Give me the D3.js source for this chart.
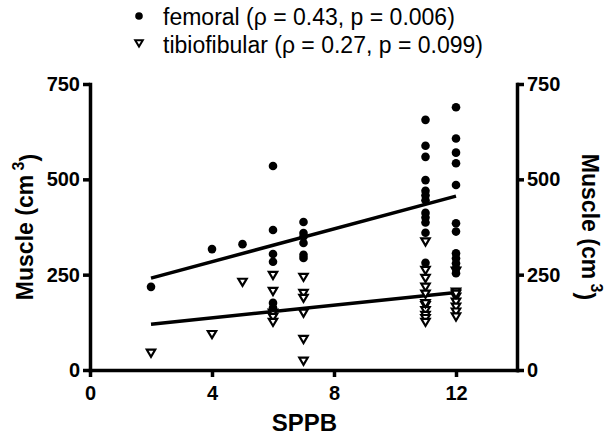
<!DOCTYPE html>
<html>
<head>
<meta charset="utf-8">
<script src="https://cdn.jsdelivr.net/npm/d3@7"></script>
<style>
  body { margin: 0; background: #fff; }
  svg text { font-family: "Liberation Sans", Arial, sans-serif; fill: #000; }
  .axis path, .axis line { stroke: #000; stroke-width: 3.5; }
  .axis text { font-size: 20px; font-weight: bold; }
</style>
</head>
<body>
<svg id="chart"></svg>
<script>
const w = 614, h = 439;

// femoral muscle volume by SPPB score
const femX = [2, 4, 5, 6, 6, 6, 6, 6, 6, 7, 7, 7, 7, 7, 7,
  11, 11, 11, 11, 11, 11, 11, 11, 11, 11, 11, 11,
  12, 12, 12, 12, 12, 12, 12, 12, 12, 12, 12, 12];
const femY = [218, 317, 330, 535, 367, 304, 284, 176, 163, 388, 359, 350, 333, 302, 294,
  656, 588, 559, 498, 470, 458, 445, 412, 400, 387, 360, 281,
  689, 607, 570, 542, 485, 385, 363, 306, 293, 280, 267, 254];

// tibiofibular muscle volume by SPPB score
const tibX = [2, 4, 5, 6, 6, 6, 6, 6, 7, 7, 7, 7, 7, 7,
  11, 11, 11, 11, 11, 11, 11, 11, 11, 11, 11,
  12, 12, 12, 12, 12, 12, 12, 12];
const tibY = [45, 94, 231, 249, 207, 150, 139, 126, 244, 202, 189, 150, 81, 24,
  337, 262, 241, 218, 200, 170, 157, 144, 136, 126, 175,
  260, 205, 192, 179, 166, 153, 140, 200];

// regression lines (ends)
const fitX = [2, 12];
const femFit = [241, 456];
const tibFit = [120, 203];

const xTicks = [0, 4, 8, 12];
const yTicks = [0, 250, 500, 750];
const legendLabels = ['femoral (\u03c1 = 0.43, p = 0.006)', 'tibiofibular (\u03c1 = 0.27, p = 0.099)'];

const x = d3.scaleLinear().domain([0, 14]).range([90, 517]);
const y = d3.scaleLinear().domain([0, 750]).range([370, 84]);

const svg = d3.select('#chart').attr('width', w).attr('height', h);

// axes
svg.append('g')
  .attr('class', 'axis')
  .attr('transform', 'translate(0,' + y(0) + ')')
  .call(d3.axisBottom(x).tickValues(xTicks).tickSize(7).tickSizeOuter(0).tickPadding(5))
  .selectAll('text').attr('dy', '0.9em');

svg.append('g')
  .attr('class', 'axis')
  .attr('transform', 'translate(' + x(0) + ',0)')
  .call(d3.axisLeft(y).tickValues(yTicks).tickSize(7).tickSizeOuter(0).tickPadding(3));

svg.append('g')
  .attr('class', 'axis')
  .attr('transform', 'translate(' + x(14) + ',0)')
  .call(d3.axisRight(y).tickValues(yTicks).tickSize(7).tickSizeOuter(0).tickPadding(3));

svg.selectAll('.axis .domain').attr('stroke-linecap', 'square');

// axis titles
svg.append('text')
  .attr('x', (x(0) + x(14)) / 2 + 1)
  .attr('y', 431)
  .attr('text-anchor', 'middle')
  .style('font-size', '24px').style('font-weight', 'bold')
  .text('SPPB');

function yTitle(g) {
  g.attr('text-anchor', 'middle')
    .style('font-size', '23px').style('font-weight', 'bold');
  g.append('tspan').text('Muscle (cm');
  g.append('tspan').attr('dy', '-0.55em').style('font-size', '16px').text(' 3');
  g.append('tspan').attr('dy', '0.55em').text(')');
}

svg.append('text')
  .attr('transform', 'translate(33,' + y(375) + ') rotate(-90)')
  .call(yTitle);

svg.append('text')
  .attr('transform', 'translate(582,' + y(375) + ') rotate(90)')
  .call(yTitle);

// regression lines
const line = d3.line().x(d => x(d[0])).y(d => y(d[1]));
[femFit, tibFit].forEach(f => {
  svg.append('path')
    .datum(fitX.map((v, i) => [v, f[i]]))
    .attr('d', line)
    .attr('fill', 'none')
    .attr('stroke', '#000')
    .attr('stroke-width', 3.5);
});

// markers
const tri = s => 'M' + (-s) + ',' + (-s * 0.75) + 'L' + s + ',' + (-s * 0.75) + 'L0,' + (s * 0.95) + 'Z';

svg.append('g').selectAll('path')
  .data(tibY)
  .enter()
  .append('path')
  .attr('transform', (d, i) => 'translate(' + x(tibX[i]) + ',' + y(d) + ')')
  .attr('d', tri(4.2))
  .attr('fill', '#fff')
  .attr('stroke', '#000')
  .attr('stroke-width', 2.2)
  .attr('stroke-linejoin', 'miter');

svg.append('g').selectAll('circle')
  .data(femY)
  .enter()
  .append('circle')
  .attr('cx', (d, i) => x(femX[i]))
  .attr('cy', d => y(d))
  .attr('r', 4.3)
  .attr('fill', '#000');

// legend
const lg = svg.append('g');
lg.append('circle').attr('cx', 139).attr('cy', 16).attr('r', 3.8).attr('fill', '#000');
lg.append('path').attr('transform', 'translate(139,43)').attr('d', tri(3.8))
  .attr('fill', '#fff').attr('stroke', '#000').attr('stroke-width', 2);
lg.selectAll('text')
  .data(legendLabels)
  .enter()
  .append('text')
  .attr('x', 163)
  .attr('y', (d, i) => 25 + i * 28)
  .style('font-size', '23px')
  .text(d => d);
</script>
</body>
</html>
